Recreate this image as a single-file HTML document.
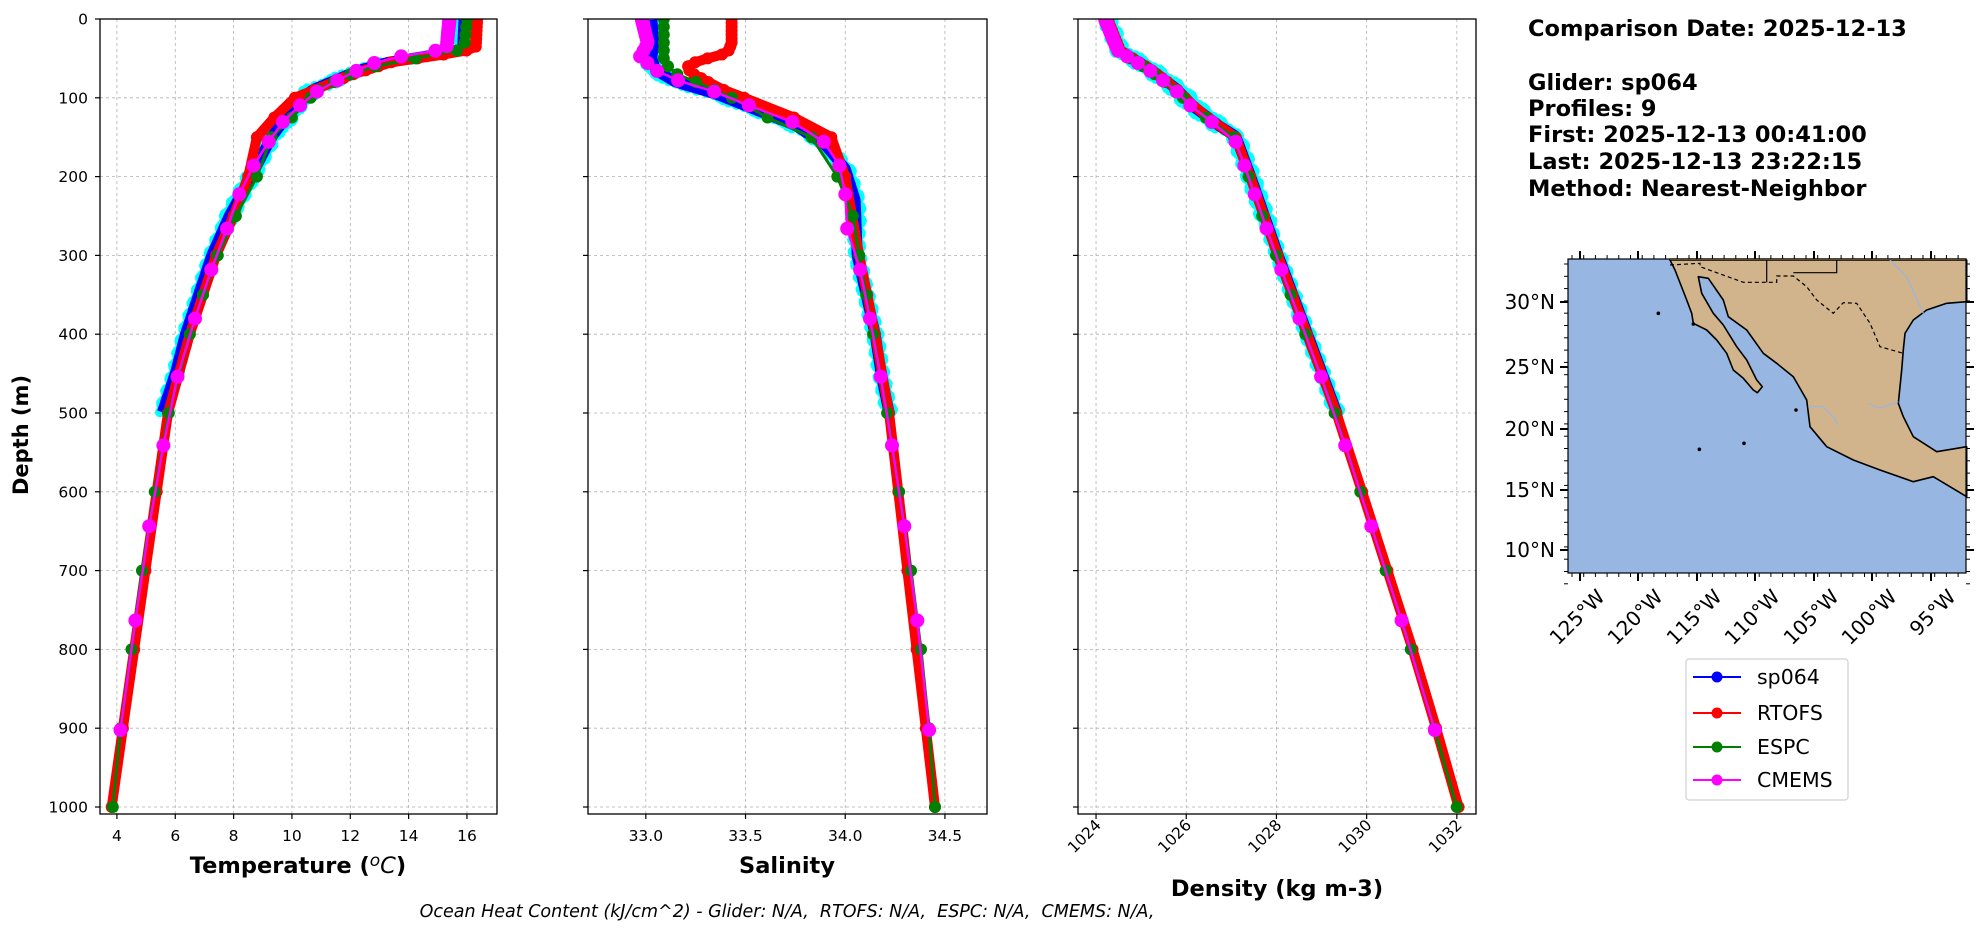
<!DOCTYPE html>
<html><head><meta charset="utf-8"><style>
html,body{margin:0;padding:0;background:#fff;}
svg{display:block;font-family:"DejaVu Sans","Liberation Sans",sans-serif;}
</style></head><body>
<svg id="s" width="1978" height="934" xmlns="http://www.w3.org/2000/svg"></svg>
<script>
const S=document.getElementById('s');let h='';
const Y=d=>19+d*0.788;
const P=[{x0:100,x1:497,v0:3.42,k:29.17},{x0:588,x1:987,v0:32.71,k:199.4},{x0:1078,x1:1476,v0:1023.6,k:45.1}];
function X(p,v){return P[p].x0+(v-P[p].v0)*P[p].k;}
function interp(tab,d){for(let i=0;i<tab.length-1;i++){if(d<=tab[i+1][0]){const t=(d-tab[i][0])/(tab[i+1][0]-tab[i][0]);return tab[i][1]+t*(tab[i+1][1]-tab[i][1]);}}return tab[tab.length-1][1];}
h+='<defs>';for(let p=0;p<3;p++)h+=`<clipPath id="c${p}"><rect x="${P[p].x0}" y="19" width="${P[p].x1-P[p].x0}" height="795"/></clipPath>`;h+='</defs>';
for(let p=0;p<3;p++){const a=P[p];
 for(let d=0;d<=1000;d+=100)h+=`<line x1="${a.x0}" x2="${a.x1}" y1="${Y(d)}" y2="${Y(d)}" stroke="#b0b0b0" stroke-width="0.8" stroke-dasharray="3,3"/>`;
}
const ticks=[[4,6,8,10,12,14,16],[33.0,33.5,34.0,34.5],[1024,1026,1028,1030,1032]];
for(let p=0;p<3;p++){for(const t of ticks[p]){const x=X(p,t);h+=`<line x1="${x}" x2="${x}" y1="19" y2="814" stroke="#b0b0b0" stroke-width="0.8" stroke-dasharray="3,3"/>`;}}
const Td=[[0,15.4],[38,15.3],[47,13.8],[53,13.0],[65,12.25],[77,11.6],[91,10.9],[109,10.3],[130,9.7],[156,9.2],[185,8.7],[222,8.2],[250,7.95],[300,7.4],[350,6.95],[400,6.5],[450,6.1],[500,5.8],[600,5.3],[700,4.86],[800,4.5],[900,4.13],[1000,3.86]];
const Tr=[[0,16.35],[38,16.3],[45,15.2],[55,13.4],[70,12.1],[100,10.1],[125,9.4],[150,8.8],[200,8.5],[250,8.0],[300,7.4],[400,6.5],[500,5.75],[1000,3.82]];
const Tg=[[0,16.0],[38,15.9],[47,14.8],[55,13.3],[70,12.0],[90,10.9],[125,10.0],[150,9.3],[200,8.8],[250,8.08],[300,7.46],[350,6.95],[400,6.5],[500,5.78],[600,5.3],[700,4.86],[800,4.5],[900,4.13],[1000,3.86]];
const Tb=[[0,15.9],[38,15.85],[45,15.0],[55,13.3],[65,12.3],[90,10.7],[110,10.1],[150,9.3],[200,8.6],[250,7.85],[300,7.25],[400,6.35],[450,6.0],[500,5.55]];
const Sd=[[0,32.98],[31,33.01],[48,32.97],[54,33.0],[65,33.05],[77,33.15],[91,33.33],[110,33.52],[130,33.73],[155,33.89],[185,33.97],[221,34.0],[266,34.01],[300,34.06],[400,34.14],[500,34.21],[600,34.27],[700,34.33],[800,34.38],[900,34.42],[1000,34.45]];
const Sr=[[0,33.43],[31,33.43],[43,33.41],[50,33.31],[58,33.21],[67,33.22],[88,33.37],[122,33.72],[150,33.93],[200,34.0],[300,34.07],[400,34.15],[500,34.22],[1000,34.45]];
const Sg=[[0,33.09],[52,33.09],[67,33.13],[97,33.41],[125,33.61],[151,33.84],[200,33.96],[251,34.04],[300,34.07],[400,34.14],[500,34.21],[600,34.27],[700,34.33],[800,34.38],[900,34.42],[1000,34.45]];
const Sb=[[0,33.03],[30,33.04],[50,33.03],[65,33.05],[80,33.15],[95,33.35],[115,33.55],[135,33.75],[160,33.9],[190,34.0],[230,34.05],[300,34.06],[400,34.15],[450,34.18],[500,34.22]];
const Rd=[[0,1024.2],[40,1024.48],[64,1025.16],[88,1025.72],[112,1026.13],[136,1026.69],[149,1027.05],[200,1027.38],[300,1027.99],[500,1029.29],[600,1029.86],[700,1030.42],[800,1030.98],[900,1031.5],[1000,1032.0]];
const Rr=Rd.map(a=>[a[0],a[1]+(a[0]<100?0.05:0.04)]);
const Rb=Rd.filter(a=>a[0]<=500).map(a=>[a[0],a[1]+0.05]);
const mdep=[0,10,20,30,40,50,60,70,80,90,100,125,150,200,250,300,350,400,500,600,700,800,900,1000];
const cdep=[0.5,1.5,2.6,3.8,5,6.4,7.9,9.6,11.4,13.5,15.8,18.5,21.6,25.2,29.4,34.4,40.3,47.4,55.8,65.8,77.9,92.3,109.7,130.7,155.9,186.1,222.5,266,318.1,380.2,453.9,541.1,643.6,763.3,902.3];
function line(p,tab,deps,col,w,r){let pts=deps.map(d=>[X(p,interp(tab,d)),Y(d)]);let s=`<polyline fill="none" stroke="${col}" stroke-width="${w}" stroke-linejoin="round" points="${pts.map(q=>q[0].toFixed(1)+','+q[1].toFixed(1)).join(' ')}"/>`;if(r)for(const q of pts)s+=`<circle cx="${q[0].toFixed(1)}" cy="${q[1].toFixed(1)}" r="${r}" fill="${col}"/>`;return s;}
function glider(p,tab,maxd){let deps=[];for(let d=1;d<=maxd;d+=3)deps.push(d);let s='';
 for(const d of deps){const v=interp(tab,d);const sp=(d>40&&d<140)?7:(d<260?4:2.5);for(const o of [-1,1]){s+=`<circle cx="${(X(p,v)+o*sp+Math.sin(d*1.7)*2).toFixed(1)}" cy="${Y(d).toFixed(1)}" r="5" fill="#00ffff"/>`;}}
 s+=line(p,tab,deps,'#0000ff',11,0);return s;}
const data=[[Tb,Tr,Tg,Td,500],[Sb,Sr,Sg,Sd,500],[Rb,Rr,Rd,Rd,500]];
for(let p=0;p<3;p++){const [b,r,g,c,md]=data[p];h+=`<g clip-path="url(#c${p})">`;
 h+=glider(p,b,md);
 h+=line(p,r,mdep.concat([5,15,25,35,45,55,65,75]).sort((a,b)=>a-b),'#ff0000',10,6);
 h+=line(p,g,mdep,'#008000',3,6);
 h+=line(p,c,cdep,'#ff00ff',2.5,7);
 h+='</g>';}
for(let p=0;p<3;p++){const a=P[p];h+=`<rect x="${a.x0}" y="19" width="${a.x1-a.x0}" height="795" fill="none" stroke="#000" stroke-width="1.3"/>`;
 for(let d=0;d<=1000;d+=100){h+=`<line x1="${a.x0-5}" x2="${a.x0}" y1="${Y(d)}" y2="${Y(d)}" stroke="#000" stroke-width="1.2"/>`;
  if(p==0)h+=`<text x="${a.x0-12}" y="${Y(d)+5.5}" font-size="15.5" text-anchor="end">${d}</text>`;}
 for(const t of ticks[p]){const x=X(p,t);h+=`<line x1="${x}" x2="${x}" y1="814" y2="819" stroke="#000" stroke-width="1.2"/>`;
  if(p<2)h+=`<text x="${x}" y="841" font-size="15.5" text-anchor="middle">${p==1?t.toFixed(1):t}</text>`;
  else h+=`<text transform="translate(${x+6},826) rotate(-45)" font-size="15.5" text-anchor="end">${t}</text>`;}
}
h+=`<text transform="translate(28,435) rotate(-90)" font-size="21" font-weight="bold" text-anchor="middle">Depth (m)</text>`;
h+=`<text x="298" y="873" font-size="22.5" font-weight="bold" text-anchor="middle">Temperature (<tspan font-style="italic" font-weight="normal" font-size="17" dy="-7">o</tspan><tspan font-style="italic" font-weight="normal" dy="7">C</tspan>)</text>`;
h+=`<text x="787" y="873" font-size="22.5" font-weight="bold" text-anchor="middle">Salinity</text>`;
h+=`<text x="1277" y="896" font-size="22.5" font-weight="bold" text-anchor="middle">Density (kg m-3)</text>`;
h+=`<text x="787" y="917" font-size="17.5" font-style="italic" text-anchor="middle" style="white-space:pre">Ocean Heat Content (kJ/cm^2) - Glider: N/A,  RTOFS: N/A,  ESPC: N/A,  CMEMS: N/A,</text>`;
const info=[[28,'Comparison Date: 2025-12-13'],[82,'Glider: sp064'],[108,'Profiles: 9'],[134,'First: 2025-12-13 00:41:00'],[161,'Last: 2025-12-13 23:22:15'],[188,'Method: Nearest-Neighbor']];
for(const [y,t] of info)h+=`<text x="1528" y="${y+8}" font-size="22.5" font-weight="bold">${t}</text>`;
const mx=1568,my=259,mw=398,mh=314;
h+=`<rect x="${mx}" y="${my}" width="${mw}" height="${mh}" fill="#97b6e1"/>`;
const Z=(a)=>a.map(q=>(1560+q[0]/3).toFixed(1)+','+(250+q[1]/3).toFixed(1)).join(' ');
const land=[[330,30],[345,60],[380,150],[395,190],[400,220],[440,240],[470,270],[500,310],[520,360],[550,385],[580,420],[592,428],[607,410],[590,390],[560,330],[530,290],[490,225],[460,190],[425,130],[415,80],[445,85],[490,150],[505,200],[560,240],[610,310],[650,340],[700,380],[740,450],[750,530],[800,590],[880,630],[960,660],[1060,695],[1120,680],[1220,740],[1220,590],[1130,605],[1060,560],[1030,500],[1015,460],[1025,360],[1030,300],[1035,250],[1060,210],[1100,180],[1160,160],[1220,155],[1220,30]];
h+=`<polygon points="${Z(land)}" fill="#d2b48c" stroke="#000" stroke-width="1.6" stroke-linejoin="round"/>`;
h+=`<line x1="${1560+330/3}" y1="${259}" x2="${1560+1220/3}" y2="259" stroke="#d2b48c" stroke-width="2"/>`;
h+=`<polyline fill="none" stroke="#000" stroke-width="1.2" stroke-dasharray="4,3" points="${Z([[330,45],[420,40],[420,50],[550,97],[650,97],[650,78],[700,78],[740,110],[770,150],[820,190],[850,158],[890,160],[930,220],[960,290],[1030,310]])}"/>`;
h+=`<polyline fill="none" stroke="#000" stroke-width="1.2" points="${Z([[620,30],[620,97]])}"/>`;
h+=`<polyline fill="none" stroke="#000" stroke-width="1.2" points="${Z([[700,68],[830,68],[830,30]])}"/>`;
h+=`<polyline fill="none" stroke="#97b6e1" stroke-width="1.2" points="${Z([[990,30],[1040,80],[1090,190]])}"/>`;
h+=`<polyline fill="none" stroke="#97b6e1" stroke-width="1.2" points="${Z([[925,460],[960,475],[1015,455]])}"/>`;
h+=`<polyline fill="none" stroke="#97b6e1" stroke-width="1.2" points="${Z([[745,470],[790,470],[820,500],[835,525]])}"/>`;
for(const q of [[295,190],[400,222],[418,598],[552,580],[708,480]])h+=`<circle cx="${1560+q[0]/3}" cy="${250+q[1]/3}" r="1.8" fill="#000"/>`;
h+=`<rect x="${mx}" y="${my}" width="${mw}" height="${mh}" fill="none" stroke="#000" stroke-width="1.2"/>`;
const lons=[[1580,'125'],[1638,'120'],[1697,'115'],[1755,'110'],[1814,'105'],[1872,'100'],[1931,'95']];
for(const [x,t] of lons){h+=`<line x1="${x}" x2="${x}" y1="${my+mh}" y2="${my+mh+8}" stroke="#000" stroke-width="2"/><line x1="${x}" x2="${x}" y1="${my-8}" y2="${my}" stroke="#000" stroke-width="2"/>`;
 h+=`<text transform="translate(${x+26},598) rotate(-45)" font-size="20" text-anchor="end">${t}°W</text>`;}
for(let i=0;i<34;i++){const x=mx+4+i*11.7;h+=`<line x1="${x}" x2="${x}" y1="${my+mh}" y2="${my+mh+4}" stroke="#000"/><line x1="${x}" x2="${x}" y1="${my-4}" y2="${my}" stroke="#000"/>`;}
const lats=[[302,'30'],[367,'25'],[429,'20'],[490,'15'],[550,'10']];
for(const [y,t] of lats){h+=`<line x1="${mx-8}" x2="${mx}" y1="${y}" y2="${y}" stroke="#000" stroke-width="2"/><line x1="${mx+mw}" x2="${mx+mw+8}" y1="${y}" y2="${y}" stroke="#000" stroke-width="2"/>`;
 h+=`<text x="${mx-13}" y="${y+7}" font-size="20" text-anchor="end">${t}°N</text>`;}
for(let i=0;i<27;i++){const y=my+5+i*12.3;h+=`<line x1="${mx-4}" x2="${mx}" y1="${y}" y2="${y}" stroke="#000"/><line x1="${mx+mw}" x2="${mx+mw+4}" y1="${y}" y2="${y}" stroke="#000"/>`;}
h+=`<rect x="1686" y="659" width="162" height="141" rx="3" fill="#fff" stroke="#d0d0d0" stroke-width="1.2"/>`;
const leg=[[677,'#0000ff','sp064'],[713,'#ff0000','RTOFS'],[747,'#008000','ESPC'],[780,'#ff00ff','CMEMS']];
for(const [y,c,t] of leg){h+=`<line x1="1693" x2="1741" y1="${y}" y2="${y}" stroke="${c}" stroke-width="2"/><circle cx="1717" cy="${y}" r="5.5" fill="${c}"/><text x="1757" y="${y+7}" font-size="20.5">${t}</text>`;}
S.innerHTML=h;
</script>
</body></html>
